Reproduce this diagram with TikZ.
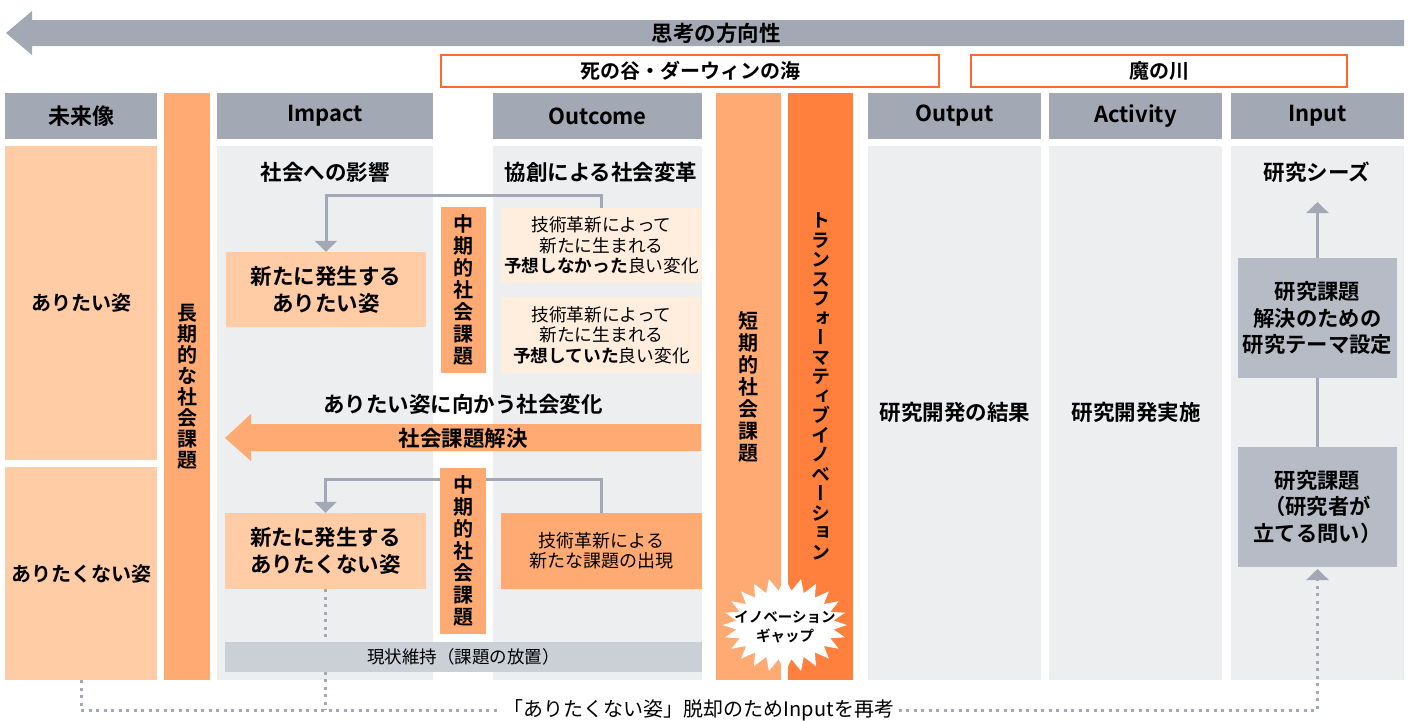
\documentclass[tikz,border=0pt]{standalone}
\usepackage{fontspec}
\setmainfont{Noto Sans CJK JP}[BoldFont={Noto Sans CJK JP Bold}]
\newfontfamily\vjp{Noto Sans CJK JP}[BoldFont={Noto Sans CJK JP Bold},RawFeature=+vert]
\usetikzlibrary{arrows.meta,shapes.symbols}
\definecolor{hgray}{HTML}{A2A8B4}
\definecolor{lgray}{HTML}{A2A8B4}
\definecolor{cbg}{HTML}{EDEEF0}
\definecolor{peach}{HTML}{FFCCA6}
\definecolor{morng}{HTML}{FFAA72}
\definecolor{dorng}{HTML}{FF7F3C}
\definecolor{pale}{HTML}{FFEEDD}
\definecolor{bgray}{HTML}{B6BBC5}
\definecolor{sgray}{HTML}{CBCFD6}
\definecolor{orng}{HTML}{FF6A2B}
\newcommand\jbig{\bfseries\fontsize{21.5}{27}\selectfont}
\newcommand\jleft{\bfseries\fontsize{20}{24}\selectfont}
\newcommand\jsm{\fontsize{17.7}{20.5}\selectfont}
\tikzset{
  hdr/.style={fill=hgray, minimum height=46pt, inner sep=0pt, font=\bfseries\fontsize{22}{24}\selectfont},
  ob/.style={draw=orng, line width=2pt, minimum height=32pt, inner sep=0pt, font=\bfseries\fontsize{20}{22}\selectfont},
  colbg/.style={fill=cbg, minimum height=534pt, inner sep=0pt},
  bar/.style={minimum height=587pt, inner sep=0pt, align=center},
  vbar/.style={inner sep=0pt, align=center, font=\vjp\bfseries\fontsize{20}{22}\selectfont},
  pbox/.style={inner sep=0pt, align=center},
  qbox/.style={fill=bgray, minimum width=159pt, minimum height=120pt, inner sep=0pt, align=center, font=\bfseries\fontsize{21.3}{26.8}\selectfont},
  conn/.style={draw=lgray, line width=3pt},
  tip/.style={-{Triangle[width=22pt,length=11pt]}},
  dotl/.style={draw=lgray, line width=3pt, dash pattern=on 3pt off 4.5pt},
}
\begin{document}
\begin{tikzpicture}[x=1pt,y=-1pt]
\useasboundingbox (0,0) rectangle (1412,720);
% direction arrow
\fill[hgray] (6,33) -- (32,11) -- (32,20) -- (1404,20) -- (1404,46) -- (32,46) -- (32,55) -- cycle;
\node[font=\bfseries\fontsize{21.5}{24}\selectfont] (dir) at (716,33) {思考の方向性};
\node[ob, minimum width=498pt] (valley) at (690,71) {死の谷・ダーウィンの海};
\node[ob, minimum width=376pt] (river) at (1159,71) {魔の川};
% headers
\node[hdr, minimum width=152pt] (hmirai) at (81,116) {未来像};
\node[hdr, minimum width=216pt] (himpact) at (325,116) {Impact};
\node[hdr, minimum width=209pt] (houtcome) at (597.5,116) {Outcome};
\node[hdr, minimum width=173pt] (houtput) at (954.5,116) {Output};
\node[hdr, minimum width=173pt] (hact) at (1135.5,116) {Activity};
\node[hdr, minimum width=173pt] (hinput) at (1317.5,116) {Input};
% bars
\node[bar, fill=morng, minimum width=46pt, font=\vjp\bfseries\fontsize{20}{21}\selectfont] (longbar) at (187,386.5) {長\\期\\的\\な\\社\\会\\課\\題};
\node[bar, fill=morng, minimum width=65pt, font=\vjp\bfseries\fontsize{20}{22}\selectfont] (shortbar) at (748.5,386.5) {短\\期\\的\\社\\会\\課\\題};
\node[bar, fill=dorng, minimum width=65pt, font=\vjp\bfseries\fontsize{19}{19.5}\selectfont] (transbar) at (820.5,386.5) {ト\\ラ\\ン\\ス\\フ\\ォ\\ー\\マ\\テ\\ィ\\ブ\\イ\\ノ\\ベ\\ー\\シ\\ョ\\ン};
% column backgrounds
\node[colbg, minimum width=216pt] (cimpact) at (325,413) {};
\node[colbg, minimum width=209pt] (coutcome) at (597.5,413) {};
\node[colbg, minimum width=173pt] (coutput) at (954.5,413) {};
\node[colbg, minimum width=173pt] (cact) at (1135.5,413) {};
\node[colbg, minimum width=173pt] (cinput) at (1317.5,413) {};
% future image
\node[pbox, fill=peach, minimum width=152pt, minimum height=314pt, font=\jleft] (ari) at (81,303) {ありたい姿};
\node[pbox, fill=peach, minimum width=152pt, minimum height=213pt, font=\jleft] (nai) at (81,573.5) {ありたくない姿};
% output / activity texts
\node[font=\jbig] (res) at (955,412) {研究開発の結果};
\node[font=\jbig] (impl) at (1136,412) {研究開発実施};
% impact / outcome titles
\node[font=\jbig] (t1) at (325,172) {社会への影響};
\node[font=\jbig] (t2) at (601,172) {協創による社会変革};
% upper boxes
\node[pbox, fill=peach, minimum width=200pt, minimum height=75pt, font=\jbig] (A) at (326,289.5) {新たに発生する\\ありたい姿};
\node[pbox, fill=pale, minimum width=201pt, minimum height=75pt, font=\jsm] (B1) at (601.5,245.5) {技術革新によって\\新たに生まれる\\\textbf{予想しなかった}良い変化};
\node[pbox, fill=pale, minimum width=201pt, minimum height=76pt, font=\jsm] (B2) at (601.5,335) {技術革新によって\\新たに生まれる\\\textbf{予想していた}良い変化};
\draw[conn, tip] (B1.north) |- (450,195) -| (A.north);
\node[vbar, fill=morng, minimum width=45pt, minimum height=166pt] (mid1) at (463.5,290) {中\\期\\的\\社\\会\\課\\題};
% social change arrow
\node[font=\jbig] (chg) at (463,404) {ありたい姿に向かう社会変化};
\fill[morng] (225,438) -- (251,414) -- (251,424) -- (701,424) -- (701,451) -- (251,451) -- (251,461) -- cycle;
\node[font=\jbig] (solve) at (463,438) {社会課題解決};
% lower boxes
\node[pbox, fill=peach, minimum width=201pt, minimum height=76pt, font=\jbig] (C) at (325.5,551) {新たに発生する\\ありたくない姿};
\node[pbox, fill=morng, minimum width=201pt, minimum height=76pt, font=\fontsize{18}{20}\selectfont] (D) at (601.5,551) {技術革新による\\新たな課題の出現};
\draw[conn, tip] (D.north) |- (450,479) -| (C.north);
\node[vbar, fill=morng, minimum width=46pt, minimum height=166pt] (mid2) at (463,551) {中\\期\\的\\社\\会\\課\\題};
% dotted lines
\draw[dotl] (C.south) -- (C.south |- 0,710);
\draw[dotl, tip] (nai.south) -- (nai.south |- 0,710) -| (1317.5,569);
\node[pbox, fill=sgray, minimum width=477pt, minimum height=30pt, font=\fontsize{17.5}{20}\selectfont] (keep) at (463.5,657) {現状維持（課題の放置）};
\node[fill=white, inner xsep=3pt, inner ysep=2pt, font=\fontsize{20}{22}\selectfont] (recon) at (699,710) {「ありたくない姿」脱却のためInputを再考};
% innovation gap
\node[starburst, fill=white, starburst points=24, starburst point height=13pt, random starburst=0, minimum width=124pt, minimum height=95pt, inner sep=0pt] (gapstar) at (785,625) {};
\node[align=center, inner sep=0pt, font=\bfseries\fontsize{14.5}{19}\selectfont] (gap) at (785,627) {イノベーション\\ギャップ};
% input column
\node[font=\jbig] (seeds) at (1317,172) {研究シーズ};
\coordinate (seedtip) at (1317.5,202);
\node[qbox] (Q1) at (1317.5,318) {研究課題\\解決のための\\研究テーマ設定};
\node[qbox] (Q2) at (1317.5,507) {研究課題\\（研究者が\\立てる問い）};
\draw[conn, tip] (Q1.north) -- (seedtip);
\draw[conn] (Q1.south) -- (Q2.north);
\end{tikzpicture}
\end{document}
